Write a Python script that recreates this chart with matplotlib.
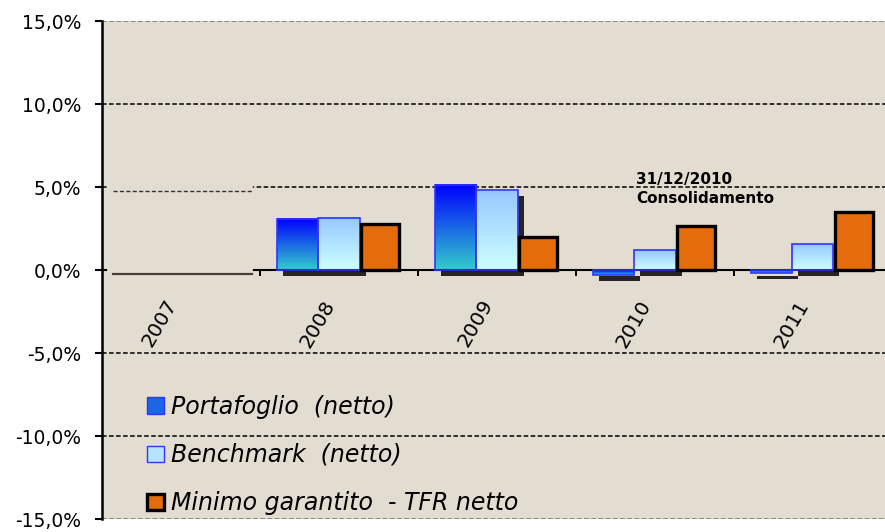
"""Rendimenti annui: portafoglio, benchmark e minimo garantito."""

import matplotlib
import numpy as np

matplotlib.use("Agg")
import matplotlib.pyplot as plt
import matplotlib.transforms as mtransforms
from matplotlib.patches import Patch, Rectangle
from matplotlib.ticker import FuncFormatter

plt.rcParams["font.family"] = ["DejaVu Sans"]

years = ["2007", "2008", "2009", "2010", "2011"]
bar_years = ["2008", "2009", "2010", "2011"]
portafoglio = [3.1, 5.15, -0.3, -0.2]
benchmark = [3.15, 4.8, 1.2, 1.55]
minimo = [2.75, 2.0, 2.65, 3.5]
y_ticks = [-15, -10, -5, 0, 5, 10, 15]
legend_labels = [
    "Portafoglio  (netto)",
    "Benchmark  (netto)",
    "Minimo garantito  - TFR netto",
]
note_text = "31/12/2010\nConsolidamento"

BACKGROUND = "#E3DCD1"
ORANGE = "#E46C0A"
EDGE_BLUE = "#3333FF"
WIDTH = 0.26


def gradient_fill(axis, rects, top_rgb, bottom_rgb):
    """Paint a vertical colour ramp inside each bar."""
    ramp = np.linspace(0, 1, 64)[:, None, None]
    colors = (np.array(top_rgb) * (1 - ramp) + np.array(bottom_rgb) * ramp) / 255
    for rect in rects:
        x0, y0 = rect.get_x(), rect.get_y()
        y1 = y0 + rect.get_height()
        axis.imshow(
            colors,
            extent=(x0, x0 + rect.get_width(), min(y0, y1), max(y0, y1)),
            aspect="auto",
            interpolation="bilinear",
            zorder=2,
        )


figure = plt.figure(figsize=(8.85, 5.32), dpi=100)
axis = figure.add_axes([0.1153, 0.0244, 0.8847, 0.9361])
axis.set_facecolor(BACKGROUND)

positions = np.array([years.index(y) for y in bar_years], dtype=float)
shadow = mtransforms.offset_copy(axis.transData, figure, x=6, y=-6, units="dots")

# drop shadows for the two blue series
for offset, values in ((-WIDTH, portafoglio), (0, benchmark)):
    axis.bar(positions + offset, values, WIDTH, color="#111111", alpha=0.9,
             transform=shadow, zorder=1.5, linewidth=0)

port_bars = axis.bar(positions - WIDTH, portafoglio, WIDTH, facecolor="none",
                     edgecolor=EDGE_BLUE, linewidth=1.2, zorder=3)
bench_bars = axis.bar(positions, benchmark, WIDTH, facecolor="none",
                      edgecolor=EDGE_BLUE, linewidth=1.2, zorder=3)
gradient_fill(axis, port_bars, (0, 0, 255), (51, 204, 204))
gradient_fill(axis, bench_bars, (150, 200, 255), (205, 255, 255))
axis.bar(positions + WIDTH, minimo, WIDTH - 0.02, facecolor=ORANGE,
         edgecolor="black", linewidth=2.4, zorder=3.5)

axis.set_xlim(-0.5, 4.456)
axis.set_ylim(-15, 15)

# grid
for value in y_ticks:
    if value in (-15, 15):
        axis.axhline(value, color="#888888", linewidth=1.4,
                     linestyle=(0, (2.5, 1.2)), zorder=1)
    elif value != 0:
        axis.axhline(value, color="black", linewidth=1.1,
                     linestyle=(0, (3, 1.6)), zorder=1)

# pasted panel over the 2007 slot
axis.add_patch(Rectangle((-0.47, -1.0), 0.92, 6.3, facecolor=BACKGROUND,
                         edgecolor="#E6E0D8", linewidth=0.5, zorder=2.6))
axis.plot([-0.43, 0.45], [4.75, 4.75], color="#333333", linewidth=1.0,
          linestyle=(0, (3, 1.6)), zorder=2.7)
axis.plot([-0.43, 0.45], [-0.27, -0.27], color="#4A4038", linewidth=1.6,
          zorder=2.7)

for side in ("top", "right"):
    axis.spines[side].set_visible(False)
axis.spines["bottom"].set_position(("data", 0))
axis.spines["bottom"].set_linewidth(1.5)
axis.spines["left"].set_linewidth(1.8)

axis.set_yticks(y_ticks)
axis.yaxis.set_major_formatter(FuncFormatter(lambda v, _: f"{v:.1f}".replace(".", ",") + "%"))
axis.tick_params(axis="y", direction="out", length=5, width=1.5, pad=10,
                 labelsize=13.5)

axis.set_xticks(np.arange(len(years)), years, rotation=60, ha="right")
axis.set_xticks(np.arange(len(years) - 1) + 0.5, minor=True)
axis.tick_params(axis="x", which="major", length=0, pad=19, labelsize=14.5)
axis.tick_params(axis="x", which="minor", direction="out", length=4.5, width=1.4)

axis.text(2.88, 4.88, note_text, ha="left", va="center", fontsize=11,
          fontweight="bold", linespacing=1.35, zorder=4)

handles = [
    Patch(facecolor="#1A66E6", edgecolor=EDGE_BLUE),
    Patch(facecolor="#B8E4FF", edgecolor=EDGE_BLUE),
    Patch(facecolor=ORANGE, edgecolor="black", linewidth=2.4),
]
axis.legend(handles, legend_labels, loc="lower left",
            bbox_to_anchor=(0.058, 0.008), frameon=False,
            prop={"style": "italic", "size": 17}, handlelength=0.68,
            handleheight=0.68, handletextpad=0.3, labelspacing=1.02,
            borderpad=0, borderaxespad=0)

figure.savefig("out.png", dpi=100)
